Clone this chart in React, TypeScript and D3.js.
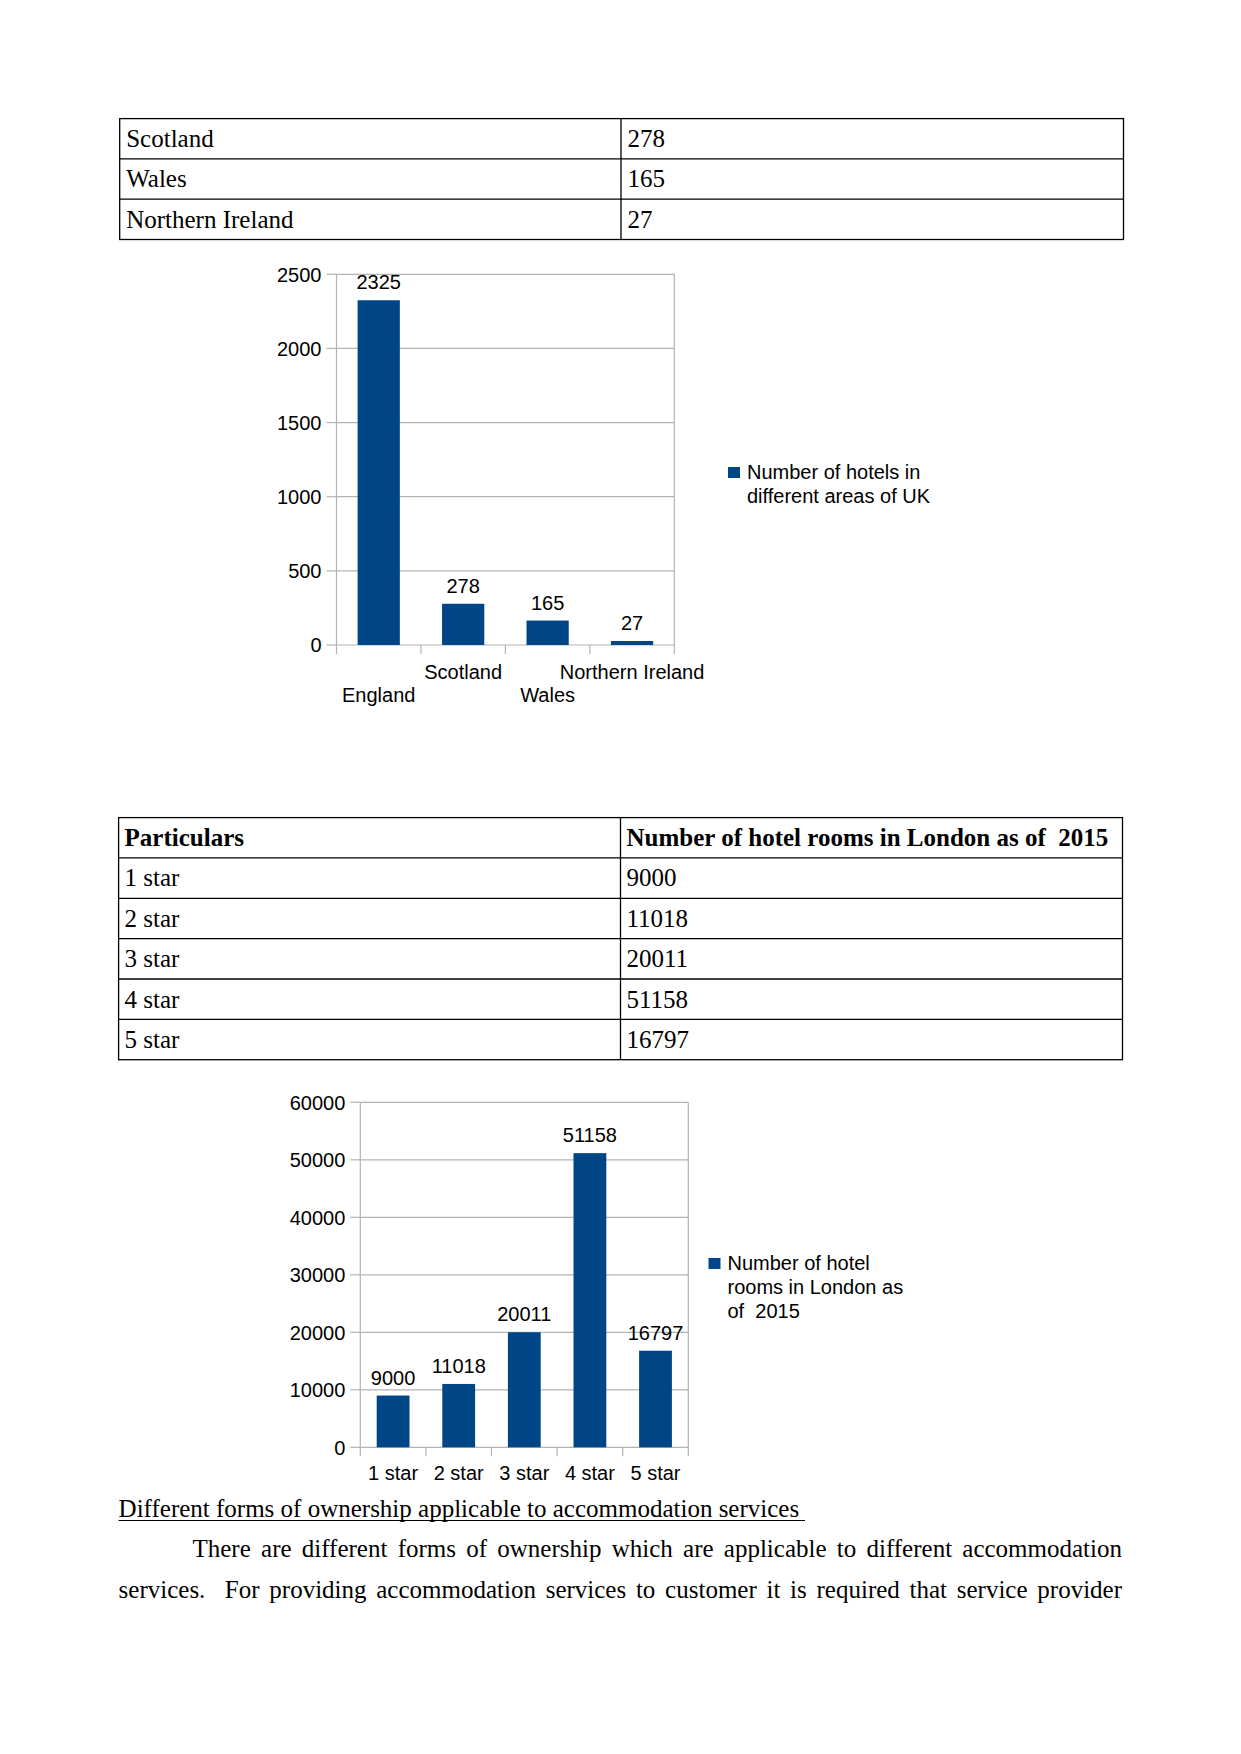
import React, { useMemo } from 'react';
import * as d3 from 'd3';

// ---------- data ----------
const regions = ['England', 'Scotland', 'Wales', 'Northern Ireland'];
const hotelCounts = [2325, 278, 165, 27];
const hotelTicks = [0, 500, 1000, 1500, 2000, 2500];
const hotelLegend = ['Number of hotels in', 'different areas of UK'];

const starCategories = ['1 star', '2 star', '3 star', '4 star', '5 star'];
const roomCounts = [9000, 11018, 20011, 51158, 16797];
const roomTicks = [0, 10000, 20000, 30000, 40000, 50000, 60000];
const roomLegend = ['Number of hotel', 'rooms in London as', 'of  2015'];
const table2Header = ['Particulars', 'Number of hotel rooms in London as of  2015'];

const headingText = 'Different forms of ownership applicable to accommodation services ';
const paragraphLines = [
  'There are different forms of ownership which are applicable to different accommodation',
  'services.  For providing accommodation services to customer it is required that service provider',
];

const SERIF = "'Liberation Serif', 'Times New Roman', serif";
const SANS = "'Liberation Sans', Arial, sans-serif";
const BAR = '#004586';
const GRID = '#b3b3b3';

function measure(text: string, font: string): number {
  const ctx = document.createElement('canvas').getContext('2d');
  if (!ctx) return text.length * 10;
  ctx.font = font;
  return ctx.measureText(text).width;
}

type ChartProps = {
  cats: string[];
  vals: number[];
  ticks: number[];
  left: number;
  right: number;
  top: number;
  bottom: number;
  labelYs: (i: number) => number;
  legend: string[];
  legendX: number;
  legendY: number;
};

function BarChart({ cats, vals, ticks, left, right, top, bottom, labelYs, legend, legendX, legendY }: ChartProps) {
  const x = d3.scaleBand<string>().domain(cats).range([left, right]).paddingInner(0.5).paddingOuter(0.25);
  const y = d3.scaleLinear().domain([0, d3.max(ticks) as number]).range([bottom, top]);
  const step = x.step();
  const bounds = d3.range(cats.length + 1).map((i) => left + i * step);
  return (
    <g fontFamily={SANS} fontSize={20} fill="#000">
      {ticks.map((t) => (
        <g key={'g' + t}>
          <line x1={left} x2={right} y1={y(t)} y2={y(t)} stroke={GRID} strokeWidth={1.2} />
          <line x1={left - 10} x2={left} y1={y(t)} y2={y(t)} stroke={GRID} strokeWidth={1.2} />
          <text x={left - 15} y={y(t)} dy="0.36em" textAnchor="end">{t}</text>
        </g>
      ))}
      {bounds.map((b, i) => (
        <line key={'b' + i} x1={b} x2={b} y1={i === 0 || i === cats.length ? top : bottom} y2={bottom + 9} stroke={GRID} strokeWidth={1.2} />
      ))}
      {cats.map((c, i) => (
        <g key={c}>
          <rect x={x(c)} y={y(vals[i])} width={x.bandwidth()} height={bottom - y(vals[i])} fill={BAR} />
          <text x={(x(c) as number) + x.bandwidth() / 2} y={y(vals[i]) - 11} textAnchor="middle">{vals[i]}</text>
          <text x={(x(c) as number) + x.bandwidth() / 2} y={labelYs(i)} textAnchor="middle">{c}</text>
        </g>
      ))}
      <rect x={legendX} y={legendY - 12} width={12} height={11} fill={BAR} />
      {legend.map((l, i) => (
        <text key={l} x={legendX + 19} y={legendY + i * 24} style={{ whiteSpace: 'pre' }}>{l}</text>
      ))}
    </g>
  );
}

function Table({ rows, left, right, split, top, rowH, boldFirst, padX }: { rows: string[][]; left: number; right: number; split: number; top: number; rowH: number; boldFirst: boolean; padX: number }) {
  const bottom = top + rows.length * rowH;
  return (
    <g fontFamily={SERIF} fontSize={25} fill="#000">
      <rect x={left} y={top} width={right - left} height={bottom - top} fill="none" stroke="#000" strokeWidth={1.3} />
      <line x1={split} x2={split} y1={top} y2={bottom} stroke="#000" strokeWidth={1.3} />
      {rows.map((r, i) => (
        <g key={i}>
          {i > 0 && <line x1={left} x2={right} y1={top + i * rowH} y2={top + i * rowH} stroke="#000" strokeWidth={1.3} />}
          <text x={left + padX} y={top + i * rowH + 28.5} fontWeight={boldFirst && i === 0 ? 'bold' : 'normal'} style={{ whiteSpace: 'pre' }}>{r[0]}</text>
          <text x={split + padX} y={top + i * rowH + 28.5} fontWeight={boldFirst && i === 0 ? 'bold' : 'normal'} style={{ whiteSpace: 'pre' }}>{r[1]}</text>
        </g>
      ))}
    </g>
  );
}

export default function App() {
  const table1 = regions.slice(1).map((r, i) => [r, String(hotelCounts[i + 1])]);
  const table2 = [table2Header, ...starCategories.map((c, i) => [c, String(roomCounts[i])])];

  const para = useMemo(() => {
    const font = `25px ${SERIF}`;
    const specs = [
      { x: 192.5, end: 1122 },
      { x: 118.6, end: 1122 },
    ];
    return paragraphLines.map((t, i) => {
      const w = measure(t, font);
      const spaces = (t.match(/ /g) || []).length;
      const ws = spaces ? (specs[i].end - specs[i].x - w) / spaces : 0;
      return { t, x: specs[i].x, ws };
    });
  }, []);

  return (
    <svg width={1241} height={1754} style={{ position: 'absolute', left: 0, top: 0, background: '#fff' }}>
      <rect width={1241} height={1754} fill="#fff" />
      <Table rows={table1} left={119.7} right={1123.5} split={621} top={118.6} rowH={40.3} boldFirst={false} padX={6.5} />
      <BarChart
        cats={regions}
        vals={hotelCounts}
        ticks={hotelTicks}
        left={336.5}
        right={674.3}
        top={274.3}
        bottom={645}
        labelYs={(i) => (i % 2 === 0 ? 701.5 : 679)}
        legend={hotelLegend}
        legendX={728}
        legendY={479}
      />
      <Table rows={table2} left={118.6} right={1122.5} split={620.5} top={817.6} rowH={40.35} boldFirst={true} padX={6} />
      <BarChart
        cats={starCategories}
        vals={roomCounts}
        ticks={roomTicks}
        left={360.3}
        right={688.3}
        top={1102.3}
        bottom={1447.3}
        labelYs={() => 1480}
        legend={roomLegend}
        legendX={708.5}
        legendY={1270}
      />
      <g fontFamily={SERIF} fontSize={25} fill="#000">
        <text x={118.6} y={1517} style={{ whiteSpace: 'pre' }}>{headingText}</text>
        <line x1={118.6} x2={805} y1={1520.5} y2={1520.5} stroke="#000" strokeWidth={1.2} />
        {para.map((p, i) => (
          <text key={i} x={p.x} y={1557 + i * 41} style={{ whiteSpace: 'pre', wordSpacing: `${p.ws}px` }}>{p.t}</text>
        ))}
      </g>
    </svg>
  );
}
